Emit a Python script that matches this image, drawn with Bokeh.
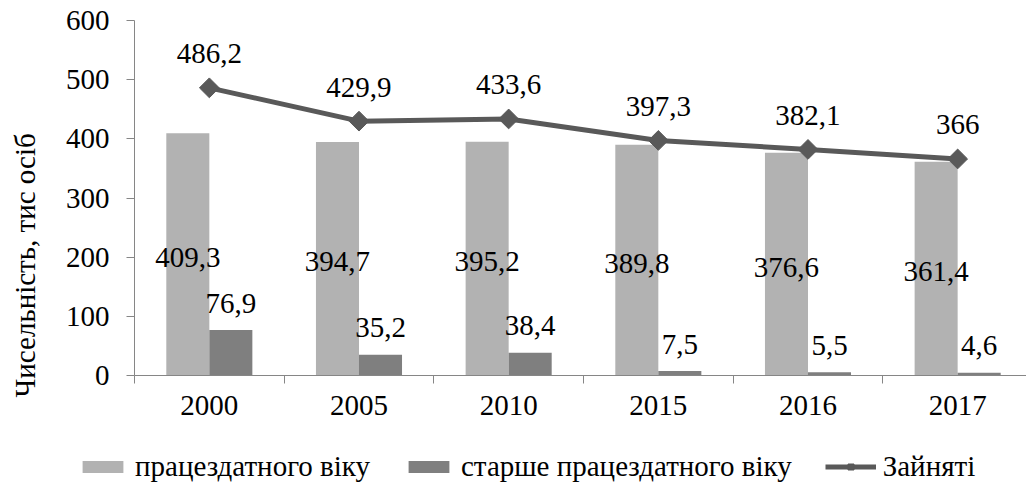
import math
from bokeh.plotting import figure
from bokeh.layouts import column
from bokeh.models import (ColumnDataSource, Range1d, FixedTicker, LabelSet, Title,
                          Legend, LegendItem, LinearAxis)
from bokeh.transform import dodge
from bokeh.core.properties import value
from bokeh.embed import file_html
from bokeh.resources import INLINE

years = ["2000", "2005", "2010", "2015", "2016", "2017"]
working_age = [409.3, 394.7, 395.2, 389.8, 376.6, 361.4]
older = [76.9, 35.2, 38.4, 7.5, 5.5, 4.6]
employed = [486.2, 429.9, 433.6, 397.3, 382.1, 366]

name_working = "працездатного віку"
name_older = "старше працездатного віку"
name_employed = "Зайняті"
y_title = "Чисельність, тис осіб"

FONT = "'Liberation Serif', 'Times New Roman', serif"
FS = "29px"
LIGHT = "#b2b2b2"
DARK = "#7f7f7f"
LINE = "#595959"
AXIS = "#868686"


def fmt(v):
    return f"{v:g}".replace(".", ",")


xs = list(range(len(years)))
src = ColumnDataSource(dict(
    x=xs,
    working=working_age,
    working_half=[v / 2 for v in working_age],
    older=older,
    employed=employed,
    working_lbl=[fmt(v) for v in working_age],
    older_lbl=[fmt(v) for v in older],
    employed_lbl=[fmt(v) for v in employed],
))

bw = 0.2875


def draw_series(fig):
    a = fig.vbar(x=dodge("x", -bw / 2), top="working", width=bw, source=src,
                 fill_color=LIGHT, line_color=None)
    b = fig.vbar(x=dodge("x", bw / 2), top="older", width=bw, source=src,
                 fill_color=DARK, line_color=None)
    c = fig.line(x="x", y="employed", source=src, line_color=LINE, line_width=5)
    d = fig.scatter(x="x", y="employed", source=src, marker="square",
                    angle=math.pi / 4, size=14, fill_color=LINE, line_color=LINE)
    return a, b, c, d


p = figure(width=1026, height=440, output_backend="svg", toolbar_location=None,
           x_range=Range1d(-0.5, 5.46), y_range=Range1d(0, 600),
           min_border_left=134, min_border_right=0, min_border_top=20,
           min_border_bottom=65)
p.outline_line_color = None
p.xgrid.visible = False
p.ygrid.visible = False
p.frame_align = False

draw_series(p)

# axes
ya = p.yaxis[0]
ya.ticker = FixedTicker(ticks=[0, 100, 200, 300, 400, 500, 600])
ya.axis_line_color = AXIS
ya.major_tick_line_color = AXIS
ya.major_tick_out = 8
ya.major_tick_in = 0
ya.minor_tick_line_color = None
ya.major_label_standoff = 17
ya.major_label_text_font = FONT
ya.major_label_text_font_size = FS
ya.major_label_text_color = "black"

xa = p.xaxis[0]
xa.ticker = FixedTicker(ticks=xs, minor_ticks=[i - 0.5 for i in range(len(years) + 1)])
xa.major_label_overrides = {i: y for i, y in enumerate(years)}
xa.axis_line_color = AXIS
xa.major_tick_line_color = None
xa.major_tick_out = 8
xa.major_tick_in = 0
xa.minor_tick_line_color = AXIS
xa.minor_tick_out = 8
xa.minor_tick_in = 0
xa.major_label_standoff = 12
xa.major_label_text_font = FONT
xa.major_label_text_font_size = FS
xa.major_label_text_color = "black"

# invisible spacer axis between tick labels and the axis title
spacer = LinearAxis(ticker=FixedTicker(ticks=[300], minor_ticks=[]),
                    major_label_overrides={300: ""},
                    axis_line_color=None, major_tick_line_color=None,
                    minor_tick_line_color=None, major_tick_out=17, major_tick_in=0,
                    minor_tick_out=0, minor_tick_in=0, major_label_standoff=0,
                    major_label_text_font_size="1px")
p.add_layout(spacer, "left")

# data labels
common = dict(source=src, text_font=value(FONT), text_font_size=value(FS),
              text_color="black", text_align="center", text_baseline="middle")
p.add_layout(LabelSet(x=dodge("x", -bw / 2), y="working_half", text="working_lbl",
                      y_offset=-3, **common))
p.add_layout(LabelSet(x=dodge("x", bw / 2), y="older", text="older_lbl",
                      y_offset=27, **common))
p.add_layout(LabelSet(x="x", y="employed", text="employed_lbl",
                      y_offset=34, **common))

# y title
p.add_layout(Title(text=y_title, align="left", offset=-22, standoff=10,
                   text_font=FONT, text_font_size=FS, text_font_style="normal",
                   text_color="black"), "left")

# legend row: a strip whose frame covers it; series drawn outside its view
lg = figure(width=1026, height=43, output_backend="svg", toolbar_location=None,
            x_range=Range1d(-30, -29), y_range=Range1d(-30, -29),
            min_border=0, x_axis_location=None, y_axis_location=None)
lg.outline_line_color = None
lg.xgrid.visible = False
lg.ygrid.visible = False
lg.frame_align = False
q1, q2, q3, q4 = draw_series(lg)

legend = Legend(items=[LegendItem(label=name_working, renderers=[q1]),
                       LegendItem(label=name_older, renderers=[q2]),
                       LegendItem(label=name_employed, renderers=[q3, q4])],
                location=(77, 0), orientation="horizontal",
                glyph_width=51, glyph_height=15, label_standoff=7, spacing=33,
                padding=0, margin=0, border_line_color=None,
                background_fill_alpha=0, label_text_font=FONT,
                label_text_font_size=FS, label_text_color="black")
lg.add_layout(legend, "center")

layout = column(p, lg, spacing=0)
open("out.html", "w").write(file_html(layout, INLINE))
